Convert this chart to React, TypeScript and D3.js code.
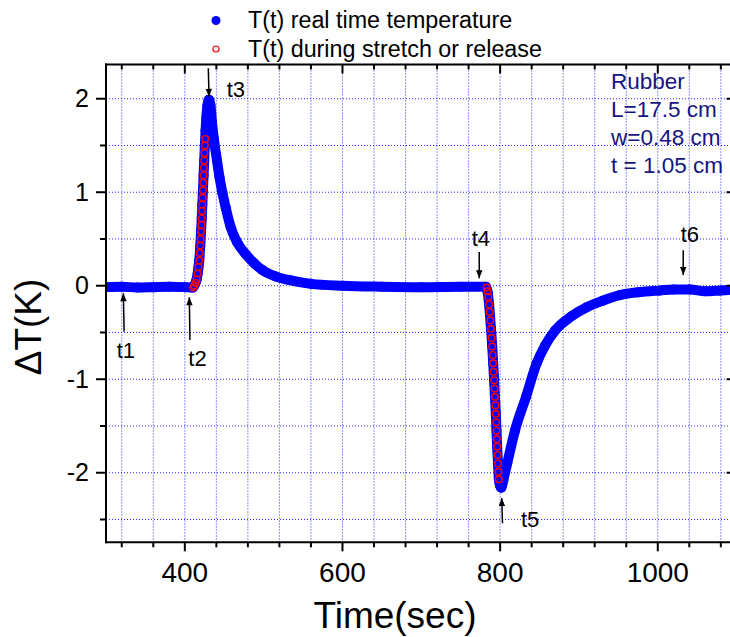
import React from "react";
import * as d3 from "d3";

// ---- data ----
const blueT = [300, 320, 340, 360, 380, 400, 410, 413.5, 415, 416.3, 417.4, 418.3, 419.6, 420.6, 421.4, 422.2, 423, 423.8, 424.6, 425.4, 426.3, 427.3, 428.6, 430.5, 432.5, 434.4, 437, 440.8, 444, 447.8, 452, 458, 466, 477, 488, 498, 515, 533, 560, 600, 650, 700, 750, 782, 784, 786, 788.4, 790, 791.2, 792.4, 793.4, 794.5, 795.4, 796.2, 797.3, 798.4, 800, 801.5, 804, 809, 818.8, 832.8, 846.3, 857, 869.6, 890, 909.8, 930, 952, 975, 1003, 1020, 1041, 1060, 1080, 1100];
const blueV = [-0.015, -0.01, -0.02, -0.015, -0.01, -0.015, -0.02, 0.03, 0.07, 0.13, 0.2, 0.27, 0.43, 0.58, 0.72, 0.87, 1.02, 1.18, 1.34, 1.5, 1.66, 1.8, 1.92, 1.99, 1.93, 1.75, 1.56, 1.34, 1.16, 0.99, 0.83, 0.63, 0.47, 0.34, 0.24, 0.17, 0.1, 0.06, 0.02, 0.0, -0.01, -0.015, -0.01, -0.01, -0.06, -0.2, -0.46, -0.65, -0.83, -1.01, -1.19, -1.37, -1.55, -1.72, -1.9, -2.07, -2.14, -2.16, -2.08, -1.9, -1.55, -1.19, -0.83, -0.64, -0.48, -0.33, -0.23, -0.16, -0.1, -0.07, -0.05, -0.04, -0.04, -0.06, -0.05, -0.04];

const stretchT = [410.5, 412, 413.5, 415, 416.3, 417.4, 418.3, 419, 419.6, 420.1, 420.6, 421, 421.4, 421.8, 422.2, 422.6, 423, 423.4, 423.8, 424.2, 424.6, 425, 425.4, 425.8];
const stretchV = [-0.02, 0.0, 0.03, 0.07, 0.13, 0.2, 0.27, 0.35, 0.43, 0.5, 0.58, 0.65, 0.72, 0.8, 0.87, 0.94, 1.02, 1.1, 1.18, 1.26, 1.34, 1.42, 1.5, 1.57];

const releaseT = [783, 784, 785, 786, 786.8, 787.6, 788.4, 789.2, 790, 790.6, 791.2, 791.8, 792.4, 792.9, 793.4, 794, 794.5, 795, 795.4, 795.8, 796.2, 796.8, 797.3, 797.8, 798.4];
const releaseV = [-0.02, -0.06, -0.12, -0.2, -0.28, -0.37, -0.46, -0.56, -0.65, -0.74, -0.83, -0.92, -1.01, -1.1, -1.19, -1.28, -1.37, -1.46, -1.55, -1.64, -1.72, -1.81, -1.9, -1.99, -2.07];

const xMajorTicks = [400, 600, 800, 1000];
const xMinorTicks = [320, 360, 400, 440, 480, 520, 560, 600, 640, 680, 720, 760, 800, 840, 880, 920, 960, 1000, 1040, 1080];
const yMajorTicks = [-2, -1, 0, 1, 2];
const yMinorTicks = [-2.5, -2, -1.5, -1, -0.5, 0, 0.5, 1, 1.5, 2];

// arrows
const arrowLabels = ["t1", "t2", "t3", "t4", "t5", "t6"];
const arrowTipT = [322, 405.7, 430.7, 773.5, 802, 1032.3];
const arrowTipV = [-0.08, -0.124, 2.02, 0.08, -2.27, 0.114];
const arrowTailT = [323, 406.5, 429.8, 773.5, 803, 1032.3];
const arrowTailV = [-0.49, -0.58, 2.325, 0.36, -2.54, 0.38];
const arrowLabelT = [313.6, 404.4, 453.1, 763.9, 826.5, 1029];
const arrowLabelV = [-0.77, -0.86, 2.02, 0.425, -2.58, 0.47];

const infoLines = ["Rubber", "L=17.5 cm", "w=0.48 cm", "t = 1.05 cm"];
const legendLabels = ["T(t) real time temperature", "T(t) during stretch or release"];

const FONT = "'Liberation Sans', Arial, Helvetica, sans-serif";

export default function App() {
  const W = 730, H = 637;
  const left = 106, right = 736.6, top = 64.5, bottom = 542.3;
  const x = d3.scaleLinear().domain([300, 1100]).range([left, right]);
  const y = d3.scaleLinear().domain([-2.744, 2.366]).range([bottom, top]);

  const blue = blueT.map((t, i) => [t, blueV[i]] as [number, number]);
  const line = d3
    .line<[number, number]>()
    .x((d) => x(d[0]))
    .y((d) => y(d[1]))
    .curve(d3.curveMonotoneX);

  const grid = { stroke: "#0000ff", strokeWidth: 1, strokeDasharray: "1 2", opacity: 0.85 };

  return (
    <svg
      width={W}
      height={H}
      viewBox={`0 0 ${W} ${H}`}
      style={{ position: "absolute", left: 0, top: 0, background: "#fff" }}
      fontFamily={FONT}
    >
      <defs>
        <clipPath id="plot">
          <rect x={left} y={top} width={right - left} height={bottom - top} />
        </clipPath>
        <marker id="ah" viewBox="0 0 10 10" refX="10" refY="5" markerWidth="10" markerHeight="8" markerUnits="userSpaceOnUse" orient="auto">
          <path d="M0,1 L10,5 L0,9 Z" fill="#000" />
        </marker>
      </defs>
      <rect x={0} y={0} width={W} height={H} fill="#fff" />

      {/* grid */}
      <g>
        {xMinorTicks.map((t) => (
          <line key={"gx" + t} x1={x(t)} x2={x(t)} y1={top} y2={bottom} {...grid} />
        ))}
        {yMinorTicks.map((v) => (
          <line key={"gy" + v} x1={left} x2={right} y1={y(v)} y2={y(v)} {...grid} />
        ))}
      </g>

      {/* data */}
      <g clipPath="url(#plot)">
        <path d={line(blue) || ""} fill="none" stroke="#0000ff" strokeWidth={10} strokeLinejoin="round" strokeLinecap="round" />
        {blue.map((d, i) => (
          <circle key={"b" + i} cx={x(d[0])} cy={y(d[1])} r={5} fill="#0000ff" />
        ))}
        {stretchT.map((t, i) => (
          <circle key={"s" + i} cx={x(t)} cy={y(stretchV[i])} r={3.3} fill="none" stroke="#ff0000" strokeWidth={1.4} />
        ))}
        {releaseT.map((t, i) => (
          <circle key={"r" + i} cx={x(t)} cy={y(releaseV[i])} r={3.3} fill="none" stroke="#ff0000" strokeWidth={1.4} />
        ))}
      </g>

      {/* axes */}
      <g stroke="#000" strokeWidth={2} fill="none">
        <line x1={left} x2={left} y1={top - 1} y2={bottom + 1} />
        <line x1={right} x2={right} y1={top - 1} y2={bottom + 1} />
        <line x1={left - 1} x2={right + 1} y1={bottom} y2={bottom} />
        <line x1={left - 1} x2={right + 1} y1={top} y2={top} />
        {xMinorTicks.map((t) => {
          const major = xMajorTicks.includes(t);
          const len = major ? 9 : 5;
          return (
            <g key={"tx" + t}>
              <line x1={x(t)} x2={x(t)} y1={bottom} y2={bottom + len} />
              <line x1={x(t)} x2={x(t)} y1={top} y2={top + len} />
            </g>
          );
        })}
        {yMinorTicks.map((v) => {
          const major = yMajorTicks.includes(v);
          const len = major ? 10 : 6;
          return (
            <g key={"ty" + v}>
              <line x1={left - len} x2={left} y1={y(v)} y2={y(v)} />
              <line x1={right - len} x2={right} y1={y(v)} y2={y(v)} />
            </g>
          );
        })}
      </g>

      {/* tick labels */}
      <g fontSize={28} textAnchor="middle" fill="#000">
        {xMajorTicks.map((t) => (
          <text key={"lx" + t} x={x(t)} y={581.7}>{t}</text>
        ))}
      </g>
      <g fontSize={25} textAnchor="end" fill="#000">
        {yMajorTicks.map((v) => (
          <text key={"ly" + v} x={89} y={y(v)} dy="0.35em">{v}</text>
        ))}
      </g>

      {/* axis titles */}
      <text x={395} y={628} fontSize={37} textAnchor="middle" fill="#000">Time(sec)</text>
      <text transform="translate(41,327) rotate(-90)" fontSize={37} textAnchor="middle" fill="#000">ΔT(K)</text>

      {/* arrows */}
      <g>
        {arrowLabels.map((lab, i) => (
          <g key={lab}>
            <line
              x1={x(arrowTailT[i])}
              y1={y(arrowTailV[i])}
              x2={x(arrowTipT[i])}
              y2={y(arrowTipV[i])}
              stroke="#000"
              strokeWidth={1.5}
              markerEnd="url(#ah)"
            />
            <text x={x(arrowLabelT[i])} y={y(arrowLabelV[i])} fontSize={22} fill="#000">{lab}</text>
          </g>
        ))}
      </g>

      {/* info text */}
      <g fontSize={22.5} fill="#141482">
        {infoLines.map((s, i) => (
          <text key={s} x={611} y={89 + i * 28}>{s}</text>
        ))}
      </g>

      {/* legend */}
      <g fontSize={23.3} fill="#000">
        <circle cx={216} cy={20.5} r={4.5} fill="#0000ff" />
        <text x={248} y={28}>{legendLabels[0]}</text>
        <circle cx={216} cy={49} r={3} fill="none" stroke="#ff0000" strokeWidth={1.2} />
        <text x={248} y={56.5}>{legendLabels[1]}</text>
      </g>
    </svg>
  );
}
